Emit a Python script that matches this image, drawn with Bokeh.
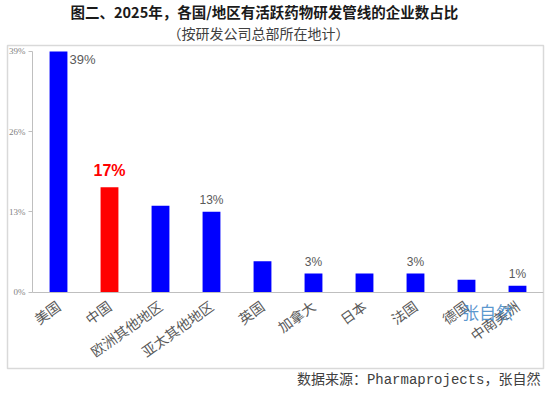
from bokeh.plotting import figure
from bokeh.models import ColumnDataSource, FixedTicker, Label, Range1d, Title
from bokeh.core.properties import value
from bokeh.embed import file_html
from bokeh.resources import INLINE

categories = ["美国", "中国", "欧洲其他地区", "亚太其他地区", "英国", "加拿大", "日本", "法国", "德国", "中南美洲"]
shares = [39, 17, 14, 13, 5, 3, 3, 3, 2, 1]
colors = ["#0000FF", "#FF0000", "#0000FF", "#0000FF", "#0000FF", "#0000FF", "#0000FF", "#0000FF", "#0000FF", "#0000FF"]
yticks = [0, 13, 26, 39]
ytick_labels = ["0%", "13%", "26%", "39%"]
labelled = ["亚太其他地区", "加拿大", "法国", "中南美洲"]
title_text = "图二、2025年，各国/地区有活跃药物研发管线的企业数占比"
subtitle_text = "（按研发公司总部所在地计）"
source_text = "数据来源：Pharmaprojects，张自然"
watermark = "张自然"

CJK = "Noto Sans CJK SC"
pos = list(range(len(categories)))

# the frame is the light-grey chart box; axes are fixed inside it
p = figure(width=550, height=393, x_range=Range1d(-1.0, 9.51), y_range=Range1d(-12.4, 39.97),
           output_backend="svg", toolbar_location=None,
           min_border_left=7, min_border_right=7, min_border_top=45, min_border_bottom=25)
p.outline_line_color = "#D9D9D9"
p.outline_line_width = 1.5
p.xgrid.grid_line_color = None
p.ygrid.grid_line_color = None

src = ColumnDataSource(dict(x=pos, val=shares, col=colors))
p.vbar(x="x", top="val", width=0.35, fill_color="col", line_color=None, source=src)

# value labels
idx = [categories.index(c) for c in labelled]
lab = ColumnDataSource(dict(x=idx, val=[shares[i] for i in idx], txt=["%d%%" % shares[i] for i in idx]))
p.text(x="x", y="val", text="txt", source=lab, text_align="center", text_baseline="bottom",
       y_offset=-5, text_font=value("Liberation Sans"), text_font_size="12px", text_color="#595959")
p.text(x=[pos[0]], y=[shares[0]], text=["%d%%" % shares[0]], x_offset=11, y_offset=1,
       text_align="left", text_baseline="top", text_font=value("Liberation Sans"),
       text_font_size="13px", text_color="#595959")
p.text(x=[pos[1]], y=[shares[1]], text=["%d%%" % shares[1]], y_offset=-8,
       text_align="center", text_baseline="bottom", text_font=value("Liberation Sans"),
       text_font_size="16px", text_font_style="bold", text_color="#FF0000")

# axes
p.yaxis.fixed_location = -0.51
p.yaxis.bounds = (0, 39)
p.yaxis.ticker = FixedTicker(ticks=yticks)
p.yaxis.major_label_overrides = {t: l for t, l in zip(yticks, ytick_labels)}
p.yaxis.major_label_text_font = "Liberation Sans Narrow"
p.yaxis.major_label_text_font_size = "9px"
p.yaxis.major_label_text_color = "#7F7F7F"
p.yaxis.axis_line_color = "#BFBFBF"
p.yaxis.major_tick_line_color = "#BFBFBF"
p.yaxis.major_tick_out = 4
p.yaxis.major_tick_in = 0
p.yaxis.minor_tick_line_color = None
p.yaxis.major_label_standoff = 3

p.xaxis.fixed_location = 0
p.xaxis.bounds = (-0.51, 9.51)
p.xaxis.ticker = FixedTicker(ticks=pos)
p.xaxis.major_label_overrides = {i: c for i, c in zip(pos, categories)}
p.xaxis.axis_line_color = "#BFBFBF"
p.xaxis.major_tick_line_color = None
p.xaxis.minor_tick_line_color = None
p.xaxis.major_label_orientation = 0.62
p.xaxis.major_label_text_font = CJK
p.xaxis.major_label_text_font_size = "14px"
p.xaxis.major_label_text_color = "#595959"
p.xaxis.major_label_standoff = 6

# titles
p.add_layout(Title(text=subtitle_text, align="left", offset=160, text_font=CJK, text_font_size="14px",
                   text_font_style="normal", text_color="#404040", standoff=6), "above")
p.add_layout(Title(text=title_text, align="left", offset=63, text_font=CJK, text_font_size="14.5px",
                   text_font_style="bold", text_color="#1a1a1a", standoff=-9), "above")
p.add_layout(Title(text=source_text, align="right", offset=3,
                   text_font="'Liberation Mono', 'Noto Sans CJK SC'", text_font_size="14px",
                   text_font_style="normal", text_color="#404040", standoff=3), "below")

# watermark
p.add_layout(Label(x=480, y=57, x_units="screen", y_units="screen", text=watermark,
                   text_align="center", text_baseline="middle", text_font=CJK,
                   text_font_size="17px", text_color="#3D85C6", text_alpha=0.85))

open("out.html", "w").write(file_html(p, INLINE))
